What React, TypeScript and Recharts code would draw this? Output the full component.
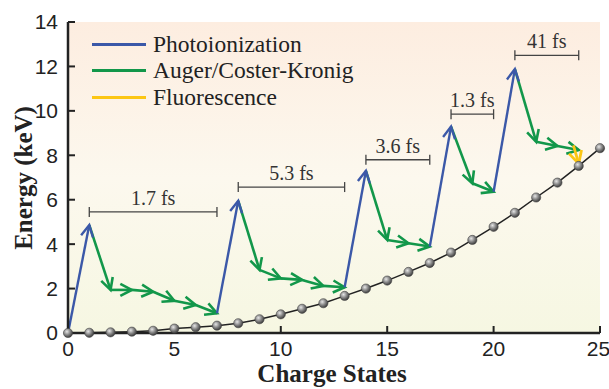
import {
	ComposedChart,
	Line,
	XAxis,
	YAxis,
	CartesianGrid,
	ReferenceLine,
	Legend,
} from 'recharts';

// black curve: ground-state energy per charge state
const chargeStates = [
	0, 1, 2, 3, 4, 5, 6, 7, 8, 9, 10, 11, 12, 13, 14, 15, 16, 17, 18, 19, 20, 21,
	22, 23, 24, 25,
];
const energies = [
	0, 0.01, 0.03, 0.06, 0.1, 0.2, 0.26, 0.33, 0.44, 0.62, 0.84, 1.09, 1.34, 1.67,
	2.0, 2.36, 2.75, 3.15, 3.62, 4.19, 4.78, 5.41, 6.1, 6.77, 7.52, 8.32,
];

// photoionization jumps (start -> end)
const photoX = [
	[0, 1],
	[7, 8],
	[13, 14],
	[17, 18],
	[20, 21],
];
const photoY = [
	[0, 4.86],
	[0.89, 5.95],
	[2.06, 7.3],
	[3.89, 9.29],
	[6.36, 11.88],
];

// auger / coster-kronig cascades
const augerX = [
	[1, 2, 3, 4, 5, 6, 7],
	[8, 9, 10, 11, 12, 13],
	[14, 15, 16, 17],
	[18, 19, 20],
	[21, 22, 23, 24],
];
const augerY = [
	[4.86, 1.94, 1.94, 1.86, 1.45, 1.26, 0.89],
	[5.95, 2.84, 2.46, 2.39, 2.12, 2.06],
	[7.3, 4.19, 4.04, 3.89],
	[9.29, 6.74, 6.36],
	[11.88, 8.61, 8.42, 8.24],
];

// fluorescence
const fluoX = [23.75, 24];
const fluoY = [8.45, 7.62];

// time brackets
const bracketLabels = ['1.7 fs', '5.3 fs', '3.6 fs', '1.3 fs', '41 fs'];
const bracketStart = [1, 8, 14, 18, 21];
const bracketEnd = [7, 13, 17, 20, 24];
const bracketLevel = [5.45, 6.57, 7.8, 9.85, 12.5];

const xTicks = [0, 5, 10, 15, 20, 25];
const yTicks = [0, 2, 4, 6, 8, 10, 12, 14];

const BLUE = '#3b58a8';
const GREEN = '#12974a';
const YELLOW = '#fcc614';

const legendItems = [
	{ name: 'Photoionization', color: BLUE },
	{ name: 'Auger/Coster-Kronig', color: GREEN },
	{ name: 'Fluorescence', color: YELLOW },
];

const curveData = chargeStates.map((x, i) => ({ x, e: energies[i] }));

const arrowShape = (color: string, width: number, L = 13) => (p: any) => {
	const { x1, y1, x2, y2 } = p;
	const ang = Math.atan2(y2 - y1, x2 - x1);
	const a = Math.PI / 6.5;
	const w1x = x2 - L * Math.cos(ang - a);
	const w1y = y2 - L * Math.sin(ang - a);
	const w2x = x2 - L * Math.cos(ang + a);
	const w2y = y2 - L * Math.sin(ang + a);
	return (
		<g>
			<line x1={x1} y1={y1} x2={x2} y2={y2} stroke={color} strokeWidth={width} />
			<polyline
				points={`${w1x},${w1y} ${x2},${y2} ${w2x},${w2y}`}
				fill='none'
				stroke={color}
				strokeWidth={width}
				strokeLinejoin='miter'
			/>
		</g>
	);
};

const bracketShape = (label: string) => (p: any) => {
	const { x1, y1, x2 } = p;
	return (
		<g>
			<line x1={x1} y1={y1} x2={x2} y2={y1} stroke='#444' strokeWidth={1.3} />
			<line x1={x1} y1={y1 - 5} x2={x1} y2={y1 + 5} stroke='#444' strokeWidth={1.3} />
			<line x1={x2} y1={y1 - 5} x2={x2} y2={y1 + 5} stroke='#444' strokeWidth={1.3} />
			<text
				x={(x1 + x2) / 2}
				y={y1 - 7}
				textAnchor='middle'
				fontFamily='Liberation Serif'
				fontSize={20}
				fill='#333'>
				{label}
			</text>
		</g>
	);
};

const Ball = (p: any) => {
	const { cx, cy } = p;
	if (cx == null || cy == null) return <g />;
	return <circle cx={cx} cy={cy} r={4.6} fill='url(#ball)' stroke='#444' strokeWidth={0.6} />;
};

const renderLegend = () => (
	<div style={{ fontFamily: 'Liberation Serif', fontSize: 23.5, color: '#222' }}>
		{legendItems.map((it) => (
			<div key={it.name} style={{ display: 'flex', alignItems: 'center', height: 26.5 }}>
				<span
					style={{
						display: 'inline-block',
						width: 54,
						height: 3,
						background: it.color,
						marginRight: 7,
					}}
				/>
				<span>{it.name}</span>
			</div>
		))}
	</div>
);

const tickFont = { fontFamily: 'Liberation Sans', fontSize: 21, fill: '#222' };
const axisLine = { stroke: '#222', strokeWidth: 2.5 };
const tickLine = { stroke: '#222', strokeWidth: 2 };

const App = () => {
	return (
		<div style={{ position: 'absolute', left: 0, top: 0, width: 609, height: 389 }}>
			<ComposedChart
				width={609}
				height={389}
				data={curveData}
				margin={{ top: 22, right: 9, bottom: 0, left: 11 }}>
				<defs>
					<linearGradient id='bg' x1='0' y1='0' x2='0' y2='1'>
						<stop offset='0%' stopColor='#fdede0' />
						<stop offset='50%' stopColor='#fcf8ee' />
						<stop offset='100%' stopColor='#f6f7e2' />
					</linearGradient>
					<radialGradient id='ball' cx='38%' cy='35%' r='65%'>
						<stop offset='0%' stopColor='#e6e6e6' />
						<stop offset='55%' stopColor='#858585' />
						<stop offset='100%' stopColor='#3e3e3e' />
					</radialGradient>
				</defs>
				<CartesianGrid fill='url(#bg)' horizontal={false} vertical={false} stroke='none' />
				<XAxis
					dataKey='x'
					type='number'
					domain={[0, 25]}
					ticks={xTicks}
					height={56}
					tickSize={-7}
					tickMargin={15}
					tick={tickFont}
					axisLine={axisLine}
					tickLine={tickLine}
					label={{
						content: () => (
							<text
								x={332}
								y={382}
								textAnchor='middle'
								fontFamily='Liberation Serif'
								fontWeight='bold'
								fontSize={25}
								fill='#222'>
								Charge States
							</text>
						),
					}}
				/>
				<XAxis
					xAxisId='top'
					orientation='top'
					dataKey='x'
					type='number'
					domain={[0, 25]}
					ticks={xTicks}
					height={0}
					tickSize={-7}
					tick={() => <g />}
					axisLine={axisLine}
					tickLine={tickLine}
				/>
				<YAxis
					type='number'
					domain={[0, 14]}
					ticks={yTicks}
					width={57}
					tickSize={-7}
					tickMargin={17}
					tick={tickFont}
					axisLine={axisLine}
					tickLine={tickLine}
					label={{
						content: () => (
							<text
								x={32}
								y={178}
								textAnchor='middle'
								transform='rotate(-90 32 178)'
								fontFamily='Liberation Serif'
								fontWeight='bold'
								fontSize={25}
								fill='#222'>
								Energy (keV)
							</text>
						),
					}}
				/>
				<YAxis
					yAxisId='right'
					orientation='right'
					type='number'
					domain={[0, 14]}
					ticks={yTicks}
					width={0}
					tickSize={-7}
					tick={() => <g />}
					axisLine={axisLine}
					tickLine={tickLine}
				/>
				<Legend
					layout='vertical'
					align='center'
					verticalAlign='middle'
					content={renderLegend}
					wrapperStyle={{ left: 92, top: 31, width: 300 }}
				/>
				<Line
					dataKey='e'
					stroke='#222'
					strokeWidth={1.5}
					dot={<Ball />}
					activeDot={false}
					isAnimationActive={false}
					legendType='none'
				/>
				{bracketLabels.map((lab, i) => (
					<ReferenceLine
						key={'br' + i}
						segment={[
							{ x: bracketStart[i], y: bracketLevel[i] },
							{ x: bracketEnd[i], y: bracketLevel[i] },
						]}
						shape={bracketShape(lab)}
					/>
				))}
				{augerX.map((xs, c) =>
					xs.slice(1).map((x, j) => (
						<ReferenceLine
							key={'au' + c + '-' + j}
							segment={[
								{ x: xs[j], y: augerY[c][j] },
								{ x, y: augerY[c][j + 1] },
							]}
							shape={arrowShape(GREEN, 2.6)}
						/>
					)),
				)}
				{photoX.map((xs, i) => (
					<ReferenceLine
						key={'ph' + i}
						segment={[
							{ x: xs[0], y: photoY[i][0] },
							{ x: xs[1], y: photoY[i][1] },
						]}
						shape={arrowShape(BLUE, 2.4)}
					/>
				))}
				<ReferenceLine
					segment={[
						{ x: fluoX[0], y: fluoY[0] },
						{ x: fluoX[1], y: fluoY[1] },
					]}
					shape={arrowShape(YELLOW, 2.8, 14)}
				/>
			</ComposedChart>
		</div>
	);
};

export default App;
